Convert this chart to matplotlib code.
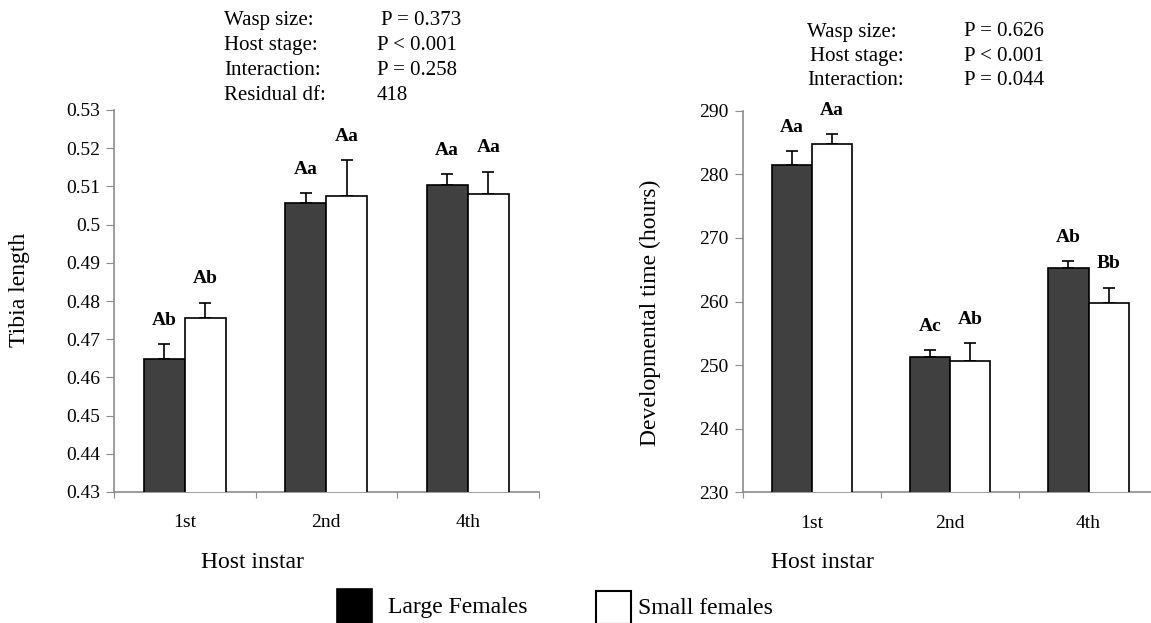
import matplotlib
matplotlib.use('Agg')
import matplotlib.pyplot as plt
from matplotlib.patches import Rectangle
from matplotlib.ticker import FixedLocator, NullFormatter

plt.rcParams['font.family'] = ['Liberation Serif', 'DejaVu Serif']

instars = ['1st', '2nd', '4th']
series_names = ['Large Females', 'Small females']

# tibia length
tibia_large = [0.4647, 0.5056, 0.5104]
tibia_large_err = [0.0041, 0.0027, 0.0028]
tibia_small = [0.4755, 0.5076, 0.5080]
tibia_small_err = [0.0041, 0.0092, 0.0059]
tibia_large_letters = ['Ab', 'Aa', 'Aa']
tibia_small_letters = ['Ab', 'Aa', 'Aa']
tibia_ticks = [0.43, 0.44, 0.45, 0.46, 0.47, 0.48, 0.49, 0.5, 0.51, 0.52, 0.53]

# developmental time
dev_large = [281.5, 251.2, 265.2]
dev_large_err = [2.1, 1.2, 1.2]
dev_small = [284.8, 250.7, 259.7]
dev_small_err = [1.5, 2.7, 2.5]
dev_large_letters = ['Aa', 'Ac', 'Ab']
dev_small_letters = ['Aa', 'Ab', 'Bb']
dev_ticks = [230, 240, 250, 260, 270, 280, 290]

tibia_stats = [('Wasp size:', 'P = 0.373'), ('Host stage:', 'P < 0.001'),
               ('Interaction:', 'P = 0.258'), ('Residual df:', '418')]
dev_stats = [('Wasp size:', 'P = 0.626'), ('Host stage:', 'P < 0.001'),
             ('Interaction:', 'P = 0.044')]

W, H = 1151, 623
fig = plt.figure(figsize=(W / 100, H / 100), dpi=100)

dark = '#404040'
spine_col = '#8c8c8c'
bw = 0.29


def px(x, y):
    return x / W, 1 - y / H


def draw_panel(ax, large, large_err, small, small_err, l_letters, s_letters, ticks):
    xs = list(range(len(instars)))
    xl = [x - bw / 2 for x in xs]
    xr = [x + bw / 2 for x in xs]
    ax.bar(xl, large, bw, color=dark, edgecolor='black', linewidth=1.2, zorder=3)
    ax.bar(xr, small, bw, color='white', edgecolor='black', linewidth=1.2, zorder=3)
    ax.errorbar(xl, large, yerr=[[0] * 3, large_err], fmt='none', ecolor='black',
                elinewidth=1.2, capsize=4, capthick=1.2, zorder=2)
    ax.errorbar(xr, small, yerr=[[0] * 3, small_err], fmt='none', ecolor='black',
                elinewidth=1.2, capsize=4, capthick=1.2, zorder=2)
    for x, v, e, t in zip(xl + xr, large + small, large_err + small_err, l_letters + s_letters):
        ax.annotate(t, (x, v + e), xytext=(0, 17), textcoords='offset points',
                    ha='center', va='center', fontsize=14, fontweight='bold')

    ax.set_xlim(-0.5, 2.5)
    ax.set_ylim(ticks[0], ticks[-1])
    ax.set_yticks(ticks)
    ax.set_yticklabels(['%g' % t for t in ticks])
    ax.xaxis.set_major_locator(FixedLocator([-0.5, 0.5, 1.5, 2.5]))
    ax.xaxis.set_major_formatter(NullFormatter())
    ax.set_xticks(xs, minor=True)
    ax.set_xticklabels(instars, minor=True)
    ax.tick_params(axis='x', which='major', direction='out', length=4.5, color=spine_col)
    ax.tick_params(axis='x', which='minor', length=0, pad=16, labelsize=14)
    ax.tick_params(axis='y', direction='out', length=6, color=spine_col, pad=4, labelsize=14)
    for s in ['top', 'right']:
        ax.spines[s].set_visible(False)
    for s in ['left', 'bottom']:
        ax.spines[s].set_color(spine_col)
        ax.spines[s].set_linewidth(1.2)


ax1 = fig.add_axes([114 / W, 1 - 492 / H, 424.5 / W, 382 / H])
draw_panel(ax1, tibia_large, tibia_large_err, tibia_small, tibia_small_err,
           tibia_large_letters, tibia_small_letters, tibia_ticks)

ax2 = fig.add_axes([742.7 / W, 1 - 492.3 / H, 415 / W, 381.6 / H])
draw_panel(ax2, dev_large, dev_large_err, dev_small, dev_small_err,
           dev_large_letters, dev_small_letters, dev_ticks)

# axis titles
fig.text(*px(20, 290), 'Tibia length', rotation=90, ha='center', va='center', fontsize=17)
fig.text(*px(650, 313), 'Developmental time (hours)', rotation=90, ha='center', va='center', fontsize=17)
fig.text(*px(252, 563), 'Host instar', ha='center', va='center', fontsize=17)
fig.text(*px(822, 563), 'Host instar', ha='center', va='center', fontsize=17)

# statistics (baseline aligned)
for i, (name, val) in enumerate(tibia_stats):
    y = 25 + 25 * i
    fig.text(*px(224, y), name, ha='left', va='baseline', fontsize=15)
    fig.text(*px(377 if i else 381, y), val, ha='left', va='baseline', fontsize=15)
for i, (name, val) in enumerate(dev_stats):
    y = 36.5 + 24.3 * i
    fig.text(*px(807 if i != 1 else 810, y), name, ha='left', va='baseline', fontsize=15)
    fig.text(*px(964, y), val, ha='left', va='baseline', fontsize=15)

# legend
fig.patches.append(Rectangle(px(337, 624), 35 / W, 35 / H, transform=fig.transFigure,
                             facecolor='black', edgecolor='black', linewidth=1.2))
fig.patches.append(Rectangle(px(596, 624), 35 / W, 33 / H, transform=fig.transFigure,
                             facecolor='white', edgecolor='black', linewidth=1.5))
fig.text(*px(388, 608), series_names[0], ha='left', va='center', fontsize=17)
fig.text(*px(638, 608), series_names[1], ha='left', va='center', fontsize=17)

fig.savefig('out.png', dpi=100)
